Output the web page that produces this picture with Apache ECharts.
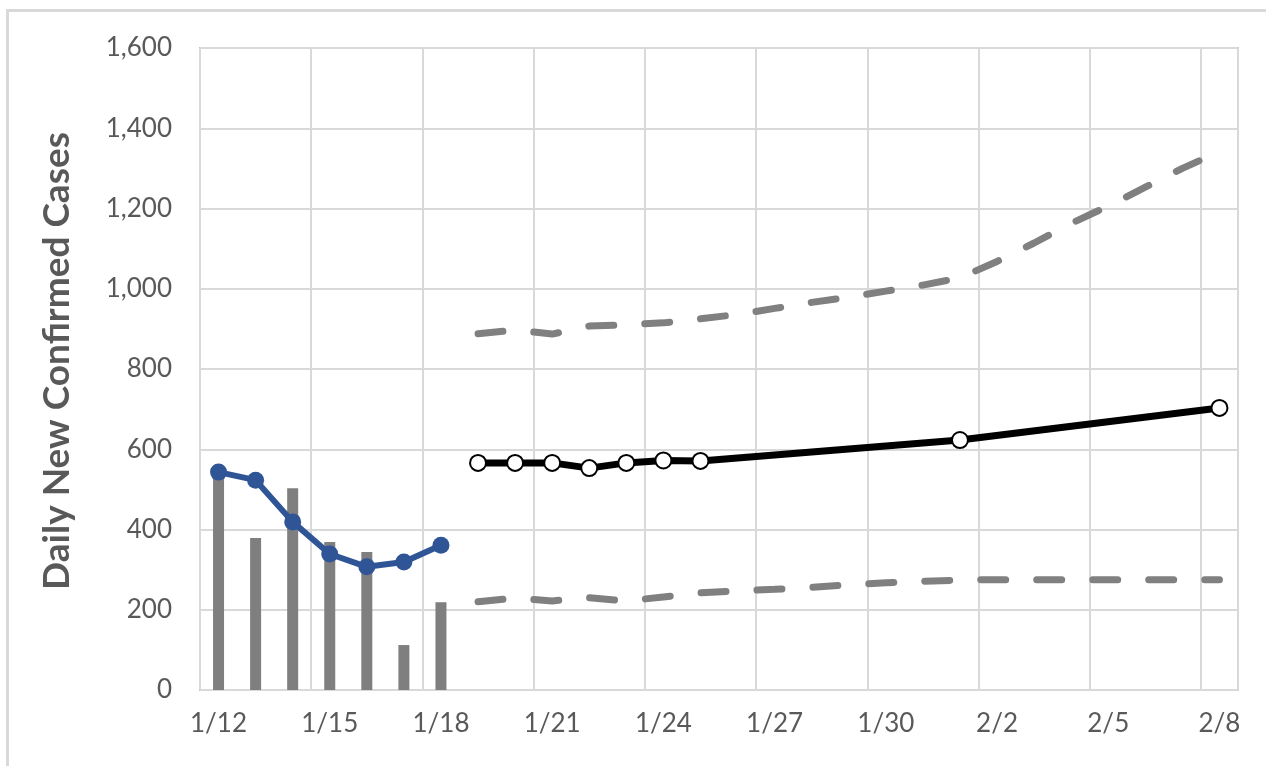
<!DOCTYPE html>
<html>
<head>
<meta charset="utf-8">
<script src="https://cdn.jsdelivr.net/npm/echarts@6/dist/echarts.min.js"></script>
<style>
html,body{margin:0;padding:0;background:#fff;}
#frame{position:absolute;left:6px;top:9px;width:1260px;height:757px;border-left:3px solid #d9d9d9;border-top:3px solid #d9d9d9;box-sizing:border-box;}
#chart{position:absolute;left:0;top:0;width:1266px;height:766px;}
</style>
</head>
<body>
<div id="frame"></div>
<div id="chart"></div>
<script>
const categories = ['1/12','1/13','1/14','1/15','1/16','1/17','1/18','1/19','1/20','1/21','1/22','1/23','1/24','1/25','1/26','1/27','1/28','1/29','1/30','1/31','2/1','2/2','2/3','2/4','2/5','2/6','2/7','2/8'];
const dailyBars = [532,379,503,369,344,112,219,null,null,null,null,null,null,null,null,null,null,null,null,null,null,null,null,null,null,null,null,null];
const observedAvg = [543,523,419,339,307,319,361,null,null,null,null,null,null,null,null,null,null,null,null,null,null,null,null,null,null,null,null,null];
const projection = [null,null,null,null,null,null,null,566,566,566,553,566,572,571,null,null,null,null,null,null,623,null,null,null,null,null,null,703];
const upperBound = [null,null,null,null,null,null,null,888,897,887,907,910,915,925,936,951,966,979,994,1009,1027,1068,1114,1163,1206,1253,1300,1342];
const lowerBound = [null,null,null,null,null,null,null,220,229,222,230,222,232,242,247,251,256,262,267,271,274,275,275,275,275,275,275,275];
const yTicks = [0,200,400,600,800,1000,1200,1400,1600];

const FONT = 'Lato';
const chart = echarts.init(document.getElementById('chart'));
chart.setOption({
  animation: false,
  backgroundColor: 'transparent',
  grid: {left: 200, right: 28, top: 48, bottom: 76, show: true, borderColor: '#c4c4c4', borderWidth: 2},
  xAxis: {
    type: 'category',
    data: categories,
    boundaryGap: true,
    axisLine: {show: false},
    axisTick: {show: false},
    axisLabel: {interval: 2, color: '#595959', fontFamily: FONT, fontSize: 26, margin: 21},
    splitLine: {show: true, interval: 2, lineStyle: {color: '#d9d9d9', width: 2}}
  },
  yAxis: {
    type: 'value',
    min: yTicks[0], max: yTicks[yTicks.length-1], interval: 200,
    name: 'Daily New Confirmed Cases',
    nameLocation: 'middle', nameRotate: 90, nameGap: 124,
    nameTextStyle: {color: '#595959', fontFamily: FONT, fontSize: 37, fontWeight: 'bold', padding: [0, 0, 0, 16]},
    axisLine: {show: false},
    axisTick: {show: false},
    axisLabel: {color: '#595959', fontFamily: FONT, fontSize: 26, margin: 28,
      formatter: v => v.toLocaleString('en-US')},
    splitLine: {show: true, lineStyle: {color: '#d9d9d9', width: 2}}
  },
  series: [
    {type: 'bar', data: dailyBars, barWidth: 11, itemStyle: {color: '#7f7f7f'}, z: 1},
    {type: 'line', data: upperBound, symbol: 'none', z: 2,
      lineStyle: {color: '#808080', width: 7, type: [25, 31], cap: 'round'}},
    {type: 'line', data: lowerBound, symbol: 'none', z: 2,
      lineStyle: {color: '#808080', width: 7, type: [25, 31], cap: 'round'}},
    {type: 'line', data: projection, connectNulls: true, symbol: 'circle', symbolSize: 16, z: 3,
      lineStyle: {color: '#000', width: 7},
      itemStyle: {color: '#fff', borderColor: '#000', borderWidth: 2}},
    {type: 'line', data: observedAvg, symbol: 'circle', symbolSize: 17, z: 4,
      lineStyle: {color: '#2f5597', width: 6},
      itemStyle: {color: '#2f5597'}}
  ]
});
</script>
</body>
</html>
